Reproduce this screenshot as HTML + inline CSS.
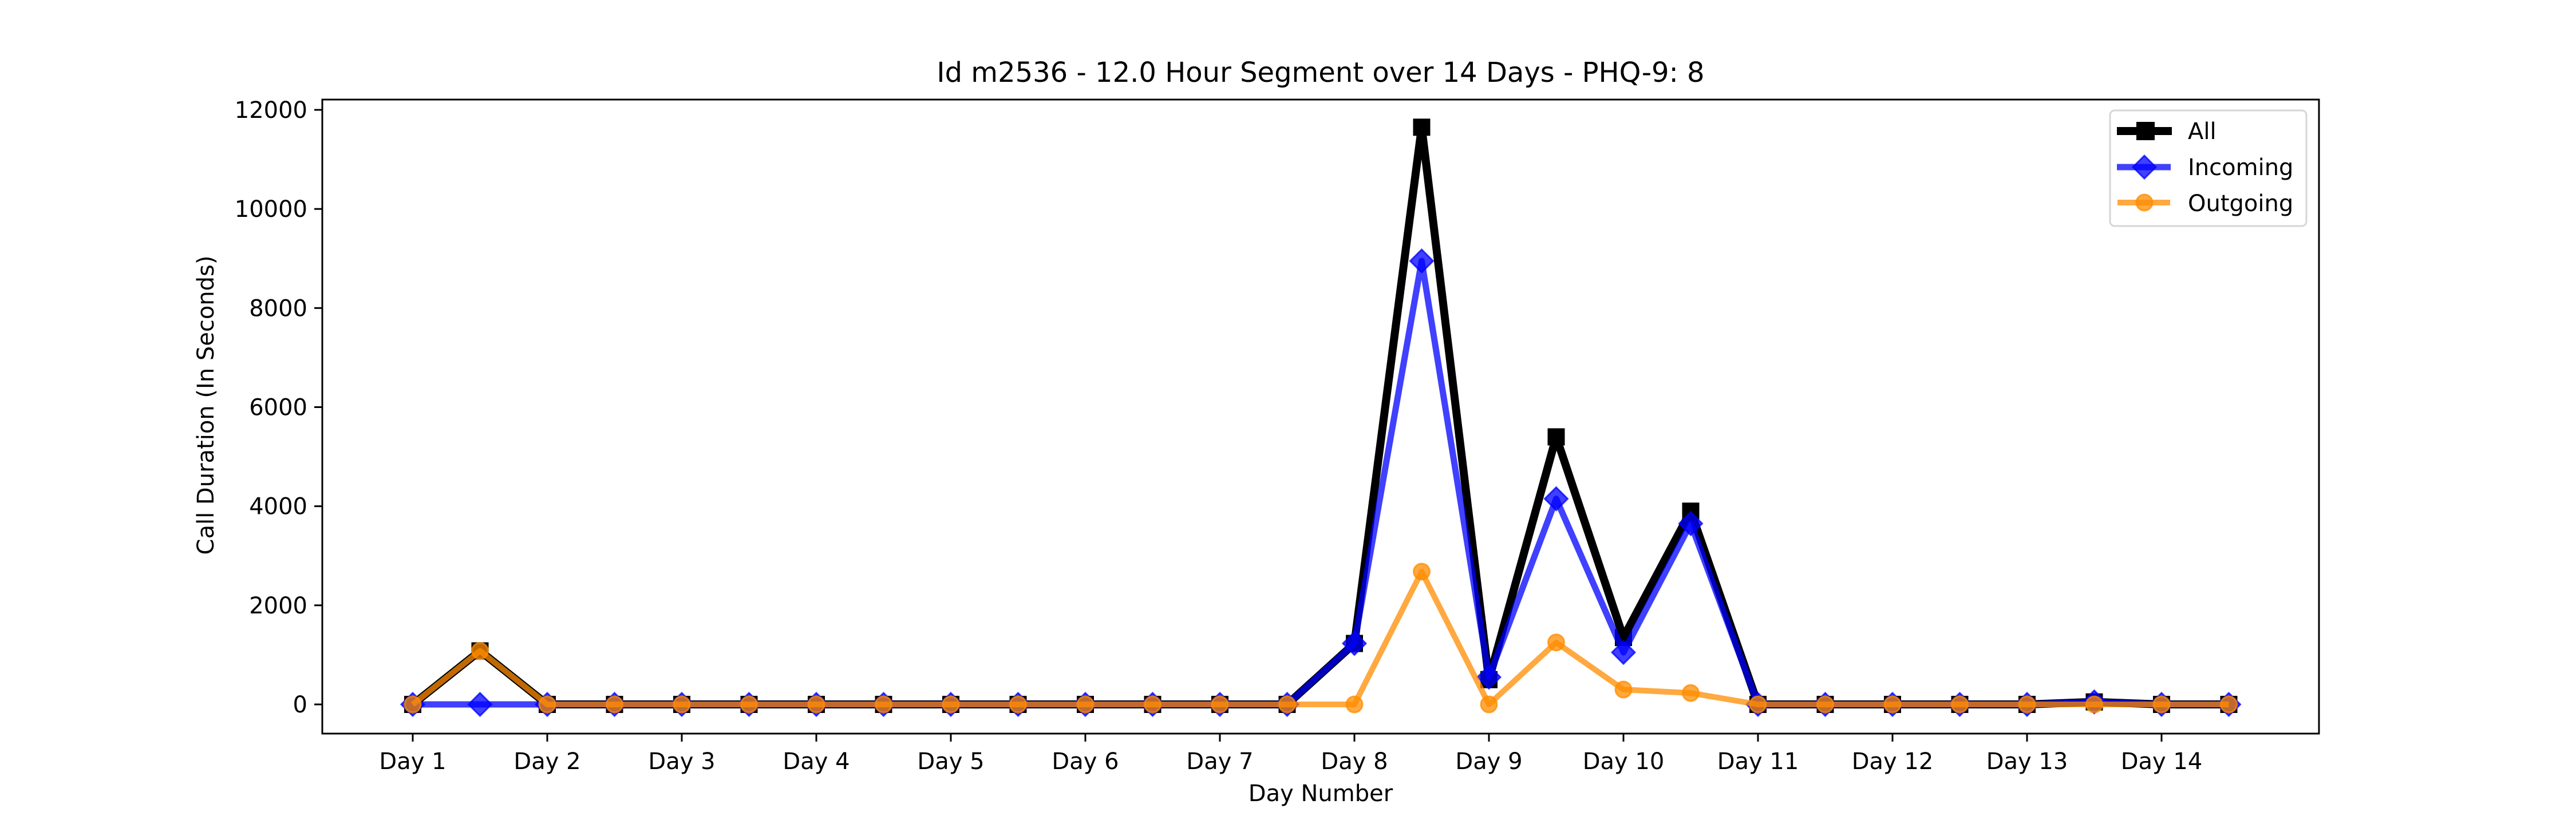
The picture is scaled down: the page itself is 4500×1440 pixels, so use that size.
<!DOCTYPE html>
<html><head><meta charset="utf-8"><style>
html,body{margin:0;padding:0;background:#fff;}
svg{display:block;font-family:"DejaVu Sans","Liberation Sans",sans-serif;}
</style></head><body>
<svg id="chart" width="4500" height="1440" viewBox="0 0 4500 1440" xmlns="http://www.w3.org/2000/svg">
<rect width="4500" height="1440" fill="#fff"/>
<text x="2307" y="143" font-size="48" text-anchor="middle">Id m2536 - 12.0 Hour Segment over 14 Days - PHQ-9: 8</text>
<text transform="translate(373,708) rotate(-90)" font-size="40" text-anchor="middle">Call Duration (In Seconds)</text>
<text x="2307" y="1400" font-size="40" text-anchor="middle">Day Number</text>
<g id="grid"></g>
<g id="series"></g>
<rect x="563" y="174" width="3488" height="1108" fill="none" stroke="#000" stroke-width="3"/>
<g id="legend">
<rect x="3686" y="193" width="343" height="202" rx="8" fill="#fff" fill-opacity="0.8" stroke="#d6d6d6" stroke-width="3"/>
<g>
<line x1="3698" y1="229" x2="3794" y2="229" stroke="#000" stroke-width="14"/>
<rect x="3732" y="213" width="32" height="32" fill="#000"/>
<text x="3822" y="243" font-size="40">All</text></g>
<g>
<line x1="3698" y1="292" x2="3792" y2="292" stroke="blue" stroke-opacity="0.75" stroke-width="11"/>
<polygon points="3746,272 3766,292 3746,312 3726,292" fill="blue" fill-opacity="0.75" stroke="blue" stroke-opacity="0.75" stroke-width="3"/>
<text x="3822" y="306" font-size="40">Incoming</text></g>
<g>
<line x1="3699" y1="354" x2="3791" y2="354" stroke="darkorange" stroke-opacity="0.75" stroke-width="10"/>
<circle cx="3746" cy="354" r="14" fill="darkorange" fill-opacity="0.75" stroke="darkorange" stroke-opacity="0.75" stroke-width="3"/>
<text x="3822" y="369" font-size="40">Outgoing</text></g>
</g>
</svg>
<script>
const xTickLabels = ["Day 1","Day 2","Day 3","Day 4","Day 5","Day 6","Day 7","Day 8","Day 9","Day 10","Day 11","Day 12","Day 13","Day 14"];
const yTicks = [0,2000,4000,6000,8000,10000,12000];
const xSteps = [0,0.5,1,1.5,2,2.5,3,3.5,4,4.5,5,5.5,6,6.5,7,7.5,8,8.5,9,9.5,10,10.5,11,11.5,12,12.5,13,13.5];
const allValues = [0,1080,0,0,0,0,0,0,0,0,0,0,0,0,1230,11650,500,5400,1350,3900,0,0,0,0,0,50,0,0];
const incomingValues = [0,0,0,0,0,0,0,0,0,0,0,0,0,0,1230,8950,550,4150,1050,3650,0,0,0,0,0,50,0,0];
const outgoingValues = [0,1080,0,0,0,0,0,0,0,0,0,0,0,0,0,2680,0,1250,300,230,0,0,0,0,0,0,0,0];

const NS = "http://www.w3.org/2000/svg";
function xs(d){ return 721 + d*235; }
function ys(v){ return 1231 - v*(1231-192)/12000; }
function mk(tag, attrs, parent){
  const e = document.createElementNS(NS, tag);
  for (const k in attrs) e.setAttribute(k, attrs[k]);
  parent.appendChild(e); return e;
}
const grid = document.getElementById('grid');
const series = document.getElementById('series');

yTicks.forEach(v=>{
  const g = mk('g',{},grid);
  
  
  mk('line',{x1:549,x2:563,y1:ys(v),y2:ys(v),stroke:'#000','stroke-width':3},g);
  const t = mk('text',{x:537,y:ys(v)+14,'font-size':40,'text-anchor':'end'},g);
  t.textContent = v;
});
xTickLabels.forEach((lab,i)=>{
  const g = mk('g',{},grid);
  
  
  mk('line',{x1:xs(i),x2:xs(i),y1:1282,y2:1296,stroke:'#000','stroke-width':3},g);
  const t = mk('text',{x:xs(i),y:1344,'font-size':40,'text-anchor':'middle'},g);
  t.textContent = lab;
});

function drawSeries(name, vals, color, op, lw, marker){
  const g = mk('g',{},series);
  
  
  const pts = vals.map((v,i)=>xs(xSteps[i])+','+ys(v)).join(' ');
  mk('polyline',{points:pts,fill:'none',stroke:color,'stroke-opacity':op,'stroke-width':lw,'stroke-linejoin':'round'},g);
  vals.forEach((v,i)=>{
    const x = xs(xSteps[i]), y = ys(v);
    let m;
    if (marker==='square') m = mk('rect',{x:x-15,y:y-15,width:30,height:30,fill:color},g);
    else if (marker==='diamond') m = mk('polygon',{points:`${x},${y-20} ${x+20},${y} ${x},${y+20} ${x-20},${y}`,fill:color,'fill-opacity':op,stroke:color,'stroke-opacity':op,'stroke-width':3},g);
    else m = mk('circle',{cx:x,cy:y,r:14,fill:color,'fill-opacity':op,stroke:color,'stroke-opacity':op,'stroke-width':3},g);
    
    
  });
}
drawSeries('series-all', allValues, '#000', 1, 14, 'square');
drawSeries('series-incoming', incomingValues, 'blue', 0.75, 11, 'diamond');
drawSeries('series-outgoing', outgoingValues, 'darkorange', 0.75, 10, 'circle');
</script>
</body></html>
